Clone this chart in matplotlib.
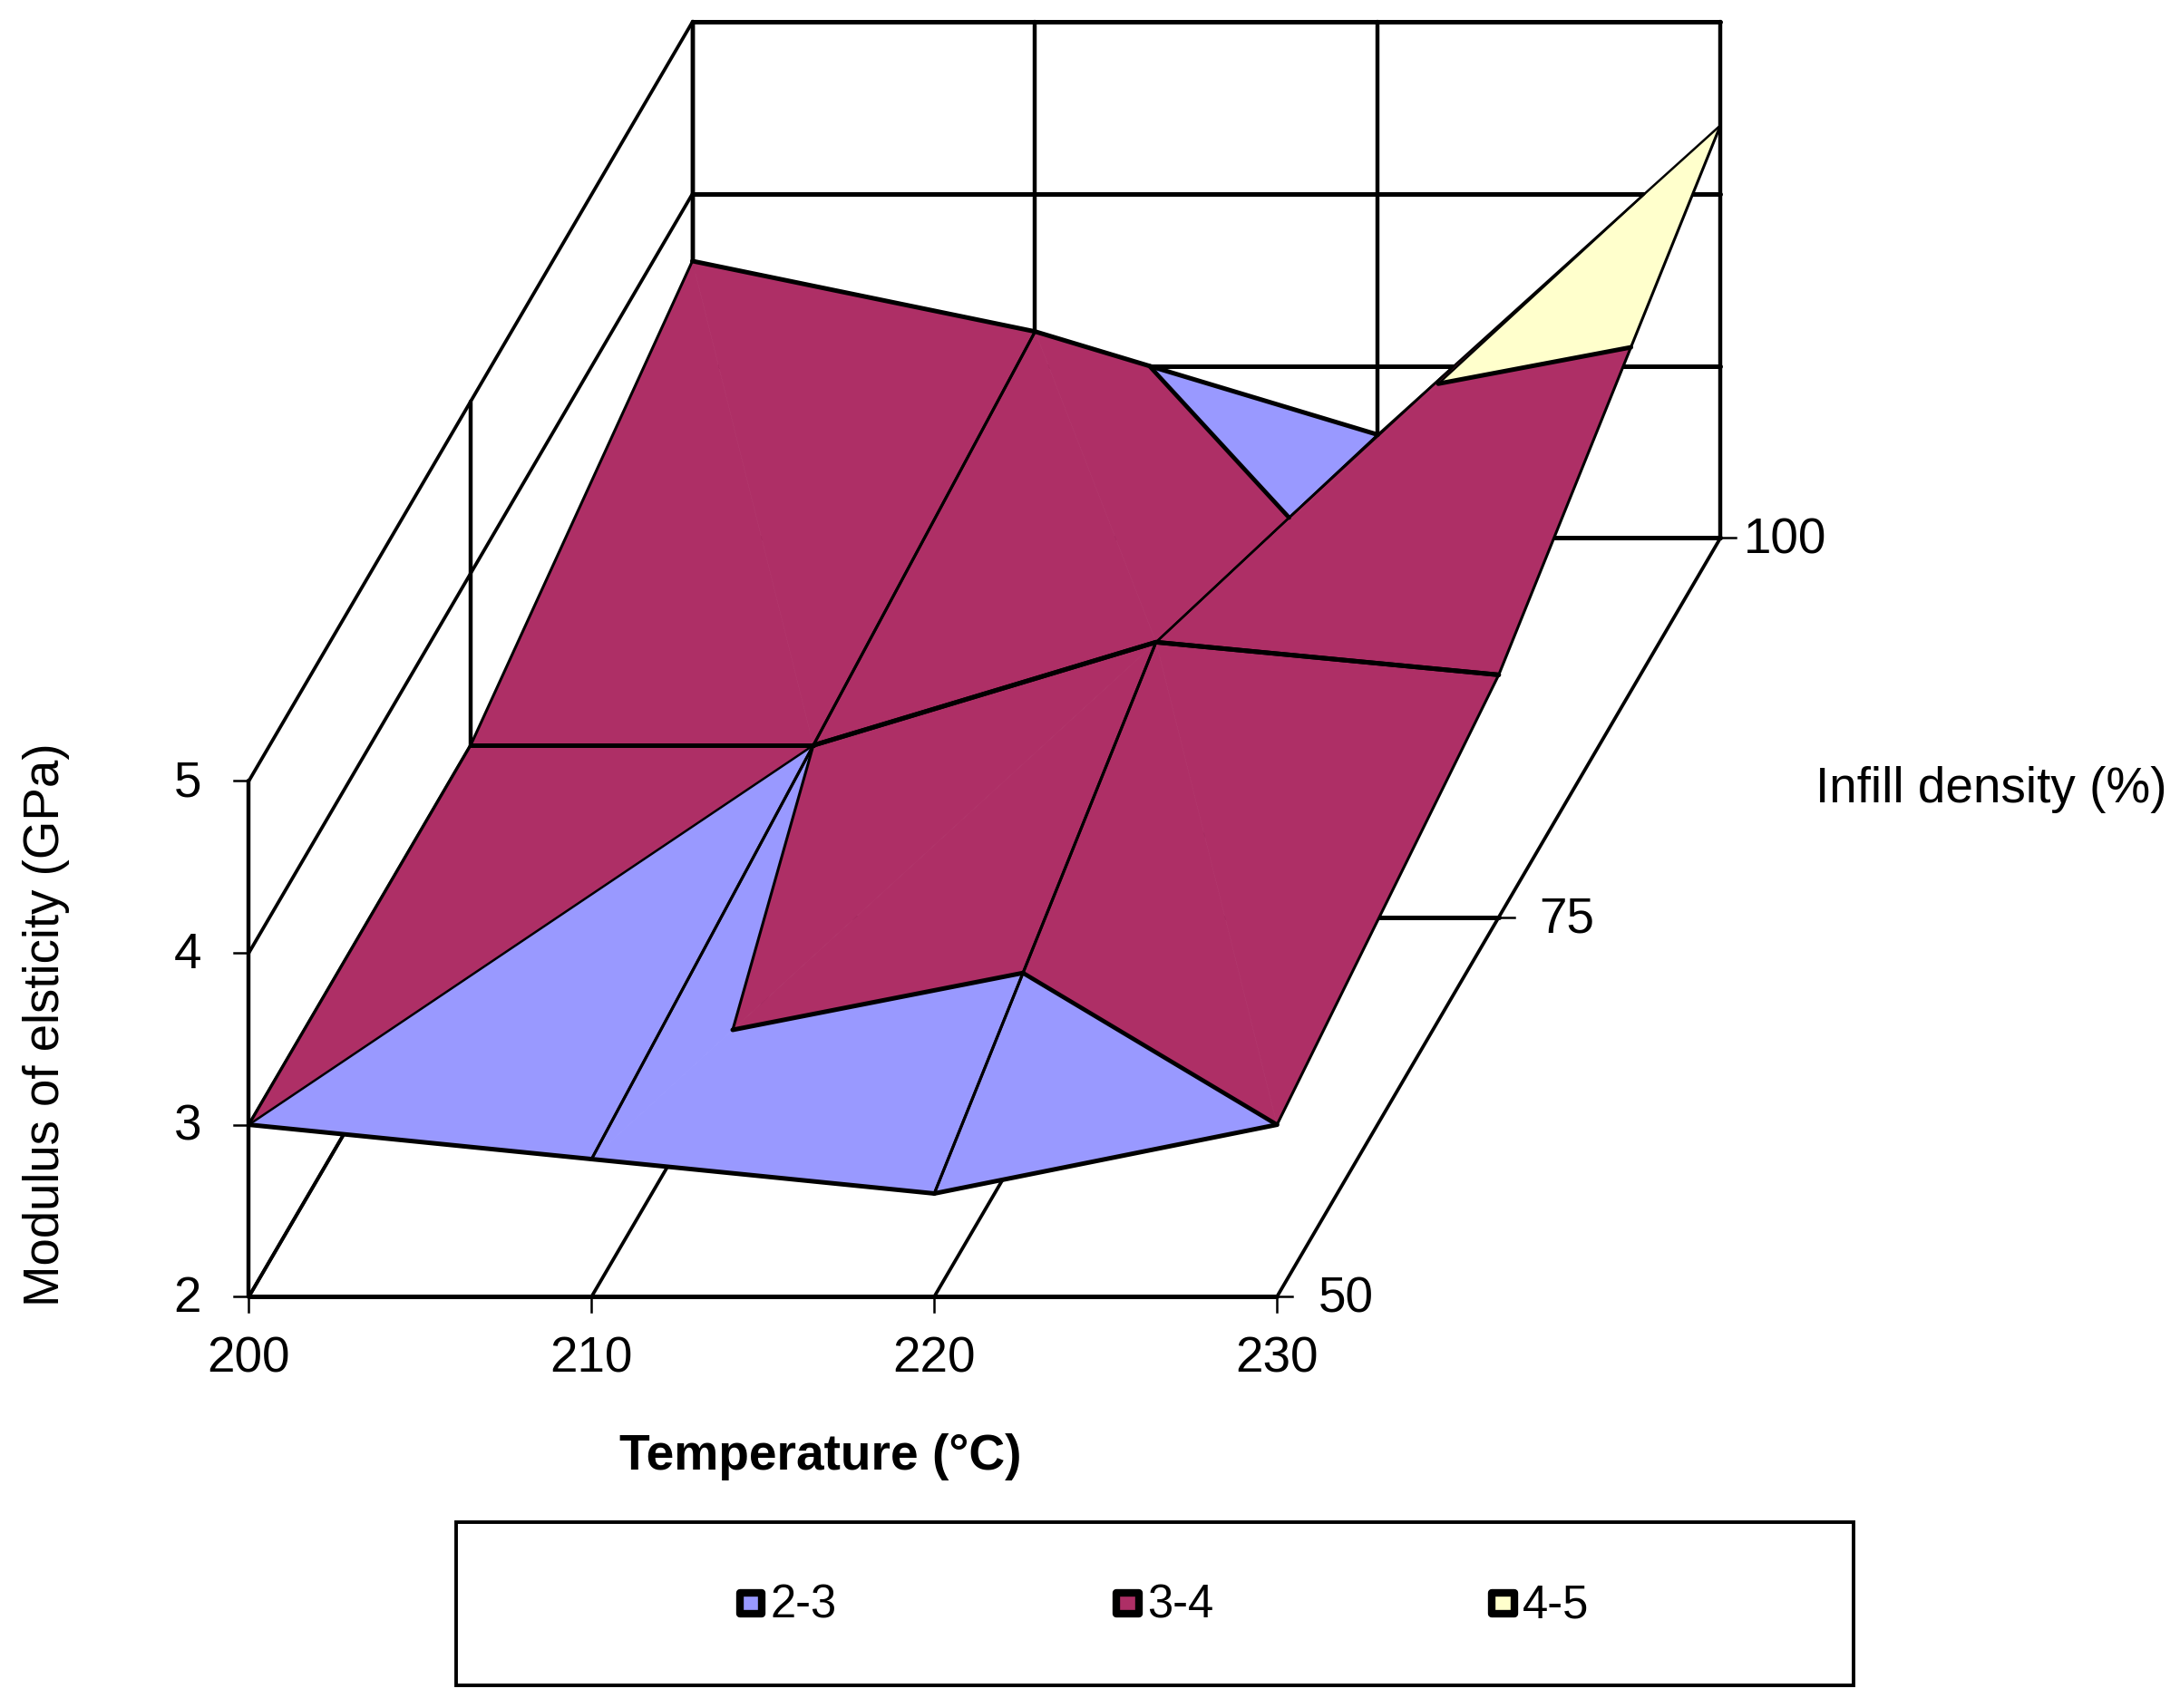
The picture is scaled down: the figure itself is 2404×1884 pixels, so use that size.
import matplotlib
matplotlib.use("Agg")
import matplotlib.pyplot as plt
from matplotlib.patches import Polygon, Rectangle

plt.rcParams["font.family"] = ["Liberation Sans", "DejaVu Sans"]

# values
temperature = [200, 210, 220, 230]
infill = [50, 75, 100]
modulus_50 = [3.0, 2.8, 2.6, 3.0]
modulus_75 = [3.0, 3.0, 3.6, 3.41]
modulus_100 = [3.61, 3.2, 2.6, 4.4]
modulus_ticks = [2, 3, 4, 5]
band_labels = ["2-3", "3-4", "4-5"]
band_levels = [(2, 3), (3, 4), (4, 5)]
band_colors = ["#9999FF", "#AE2F66", "#FFFFCC"]

surface = [modulus_50, modulus_75, modulus_100]


# oblique projection of the excel chart, result in picture units
def project(t, d, z):
    x = 179 + (t - 200) * 24.65 + (d - 50) * 6.38
    y = 933 - (d - 50) * 10.92 - (z - 2) * 123.7
    return x, y


def line3(ax, a, b, zorder=1):
    p = project(*a)
    q = project(*b)
    dx = q[0] - p[0]
    dy = q[1] - p[1]
    # the original raster has thick flat lines and thin rising ones
    if abs(dx) < 0.01:
        lw = 3.2
    elif abs(dy) < abs(dx) * 0.45:
        lw = 3.6
    elif dx * dy < 0 and abs(dy) < abs(dx) * 1.2:
        lw = 1.8
    elif dx * dy > 0:
        lw = 3.4
    elif zorder > 1:
        lw = 2.2
    else:
        lw = 2.7
    ax.plot([p[0], q[0]], [p[1], q[1]], color="black", lw=lw, zorder=zorder,
            solid_capstyle="round")


def clip(points, level, keep_above):
    # cut a polygon of (t, d, z) points at a modulus level
    out = []
    for i in range(len(points)):
        a = points[i]
        b = points[(i + 1) % len(points)]
        a_in = a[2] >= level if keep_above else a[2] <= level
        b_in = b[2] >= level if keep_above else b[2] <= level
        if a_in:
            out.append(a)
        if a_in != b_in:
            f = (level - a[2]) / (b[2] - a[2])
            out.append((a[0] + f * (b[0] - a[0]), a[1] + f * (b[1] - a[1]), level))
    return out


def contour_segment(tri, level):
    pts = []
    for i in range(3):
        a = tri[i]
        b = tri[(i + 1) % 3]
        if a[2] == level:
            pts.append(a)
        elif (a[2] - level) * (b[2] - level) < 0:
            f = (level - a[2]) / (b[2] - a[2])
            pts.append((a[0] + f * (b[0] - a[0]), a[1] + f * (b[1] - a[1]), level))
    return pts if len(pts) == 2 else None


fig = plt.figure(figsize=(24.04, 18.84), dpi=100)
ax = fig.add_axes([0, 0, 1, 1])
ax.set_xlim(0, 1568)
ax.set_ylim(1229, 0)
ax.axis("off")

t0, t1 = temperature[0], temperature[-1]
d0, d1 = infill[0], infill[-1]
z0, z1 = modulus_ticks[0], modulus_ticks[-1]

# walls and floor
for t in temperature:
    line3(ax, (t, d0, z0), (t, d1, z0))
    line3(ax, (t, d1, z0), (t, d1, z1))
for d in infill:
    line3(ax, (t0, d, z0), (t1, d, z0))
    line3(ax, (t0, d, z0), (t0, d, z1))
for z in modulus_ticks:
    line3(ax, (t0, d0, z), (t0, d1, z))
    line3(ax, (t0, d1, z), (t1, d1, z))

# surface, back row first
for j in range(len(infill) - 2, -1, -1):
    for i in range(len(temperature) - 1):
        a = (temperature[i], infill[j], surface[j][i])
        b = (temperature[i + 1], infill[j], surface[j][i + 1])
        c = (temperature[i + 1], infill[j + 1], surface[j + 1][i + 1])
        d = (temperature[i], infill[j + 1], surface[j + 1][i])
        # cell is folded along the diagonal with the higher values
        if a[2] + c[2] >= b[2] + d[2]:
            tris = [(a, b, c), (a, c, d)]
        else:
            tris = [(a, b, d), (b, c, d)]
        for tri in tris:
            for (lo, hi), col in zip(band_levels, band_colors):
                poly = clip(clip(list(tri), lo, True), hi, False)
                if len(poly) >= 3:
                    ax.add_patch(Polygon([project(*p) for p in poly], closed=True,
                                         fc=col, ec=col, lw=0.5, zorder=2))
            for level in band_levels[1:]:
                seg = contour_segment(tri, level[0])
                if seg:
                    line3(ax, seg[0], seg[1], zorder=3)
        for p, q in [(a, b), (b, c), (c, d), (d, a)]:
            line3(ax, p, q, zorder=3)

# ticks and tick labels
for t in temperature:
    x, y = project(t, d0, z0)
    ax.plot([x, x], [y, y + 11], color="black", lw=1.8, zorder=1)
    ax.text(x, y + 45, str(t), ha="center", va="center", fontsize=39.5)
for z in modulus_ticks:
    x, y = project(t0, d0, z)
    ax.plot([x - 11, x], [y, y], color="black", lw=1.8, zorder=1)
    ax.text(x - 44, y + 2, str(z), ha="center", va="center", fontsize=39.5)
for d, gap in zip(infill, [30, 29, 17]):
    x, y = project(t1, d, z0)
    ax.plot([x, x + 11], [y, y], color="black", lw=1.8, zorder=1)
    ax.text(x + gap, y + 2, str(d), ha="left", va="center", fontsize=39.5)

# axis titles
ax.text(33, 737, "Modulus of elsticity (GPa)", rotation=90, ha="center", va="center", fontsize=39.3)
ax.text(590, 1048, "Temperature (°C)", ha="center", va="center", fontsize=39.7, fontweight="bold")
ax.text(1432, 568, "Infill density (%)", ha="center", va="center", fontsize=39.5)

# legend box
ax.add_patch(Rectangle((328, 1095), 1005, 118, fc="white", ec="black", lw=2.8))
for x, label, col in zip([540, 811, 1081], band_labels, band_colors):
    ax.add_patch(Rectangle((x - 8, 1146), 16, 15, fc=col, ec="black", lw=6, joinstyle="round"))
    ax.text(x + 14, 1155, label, ha="left", va="center", fontsize=36.5)

fig.savefig("out.png", dpi=100, facecolor="white")
